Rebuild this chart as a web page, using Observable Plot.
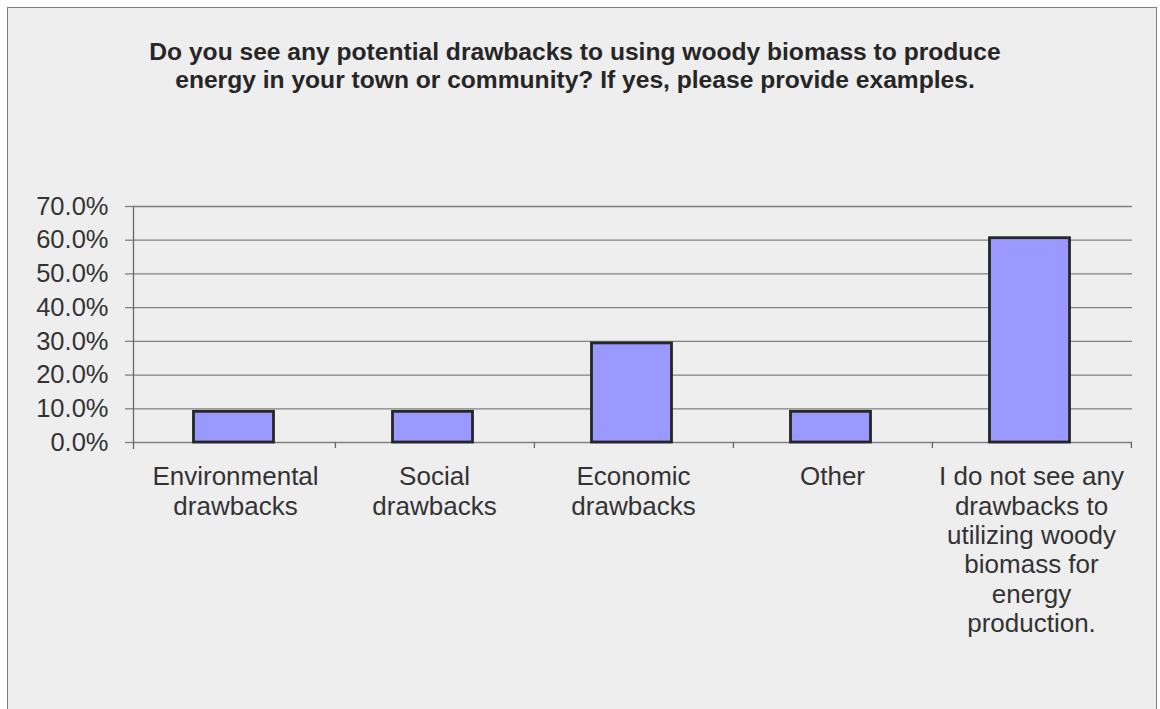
<!DOCTYPE html>
<html>
<head>
<meta charset="utf-8">
<script src="https://cdn.jsdelivr.net/npm/d3@7"></script>
<script src="https://cdn.jsdelivr.net/npm/@observablehq/plot@0.6"></script>
<style>
  html, body { margin: 0; padding: 0; background: #ffffff; }
  body { width: 1160px; height: 709px; position: relative; overflow: hidden; }
  #box { position: absolute; left: 7px; top: 7px; width: 1150px; height: 740px;
         background: #eeeeee; border: 1.5px solid #7f7f7f; box-sizing: border-box; }
  #title { position: absolute; left: 0; top: 38px; width: 1150px; text-align: center;
           font-family: "Liberation Sans", Arial, sans-serif; font-weight: bold; font-size: 24.6px;
           line-height: 28px; color: #262626; }
  #chart { position: absolute; left: 0; top: 130px; }
</style>
</head>
<body>
<div id="box"></div>
<div id="title">Do you see any potential drawbacks to using woody biomass to produce<br>energy in your town or community? If yes, please provide examples.</div>
<div id="chart"></div>
<script>
const categories = [
  "Environmental drawbacks",
  "Social drawbacks",
  "Economic drawbacks",
  "Other",
  "I do not see any drawbacks to utilizing woody biomass for energy production."
];
const categoryLabels = [
  "Environmental\ndrawbacks",
  "Social\ndrawbacks",
  "Economic\ndrawbacks",
  "Other",
  "I do not see any\ndrawbacks to\nutilizing woody\nbiomass for\nenergy\nproduction."
];
const values = [0.091, 0.091, 0.294, 0.091, 0.606];
const yTicks = [0, 0.1, 0.2, 0.3, 0.4, 0.5, 0.6, 0.7];

const data = categories.map((c, i) => ({category: c, label: categoryLabels[i], value: values[i]}));

const W = 1160, H = 560, mL = 133, mR = 28, mT = 76, mB = 248;
const pInner = 0.6, pOuter = 0.3;
const step = (W - mL - mR) / (categories.length - pInner + 2 * pOuter);

const chart = Plot.plot({
  width: W, height: H,
  marginLeft: mL, marginRight: mR, marginTop: mT, marginBottom: mB,
  style: {background: "transparent", fontFamily: "'Liberation Sans', Arial, sans-serif", color: "#333"},
  x: {domain: categories, paddingInner: pInner, paddingOuter: pOuter, axis: null},
  y: {domain: [0, 0.7], axis: null},
  marks: [
    Plot.ruleY(yTicks, {y: d => d, stroke: "#808080", strokeWidth: 1.3}),
    Plot.axisY(yTicks, {tickSize: 8, tickPadding: 17, tickFormat: d3.format(".1%"), fontSize: 25.5, stroke: "#808080", fill: "#333", strokeWidth: 1.3, label: null}),
    Plot.barY(data, {x: "category", y: "value", fill: "#9999ff", stroke: "#262626", strokeWidth: 2.8, dx: -1.5}),
    Plot.frame({anchor: "left", insetBottom: -6, stroke: "#666", strokeWidth: 1.3}),
    Plot.axisX({tickSize: 6, tickFormat: () => "", dx: step / 2, stroke: "#666", strokeWidth: 1.3, label: null}),
    Plot.text(data, {x: "category", text: "label", frameAnchor: "bottom", lineAnchor: "top", dy: 22, fontSize: 26, lineHeight: 1.13, fill: "#333"})
  ]
});
document.getElementById("chart").appendChild(chart);
</script>
</body>
</html>
